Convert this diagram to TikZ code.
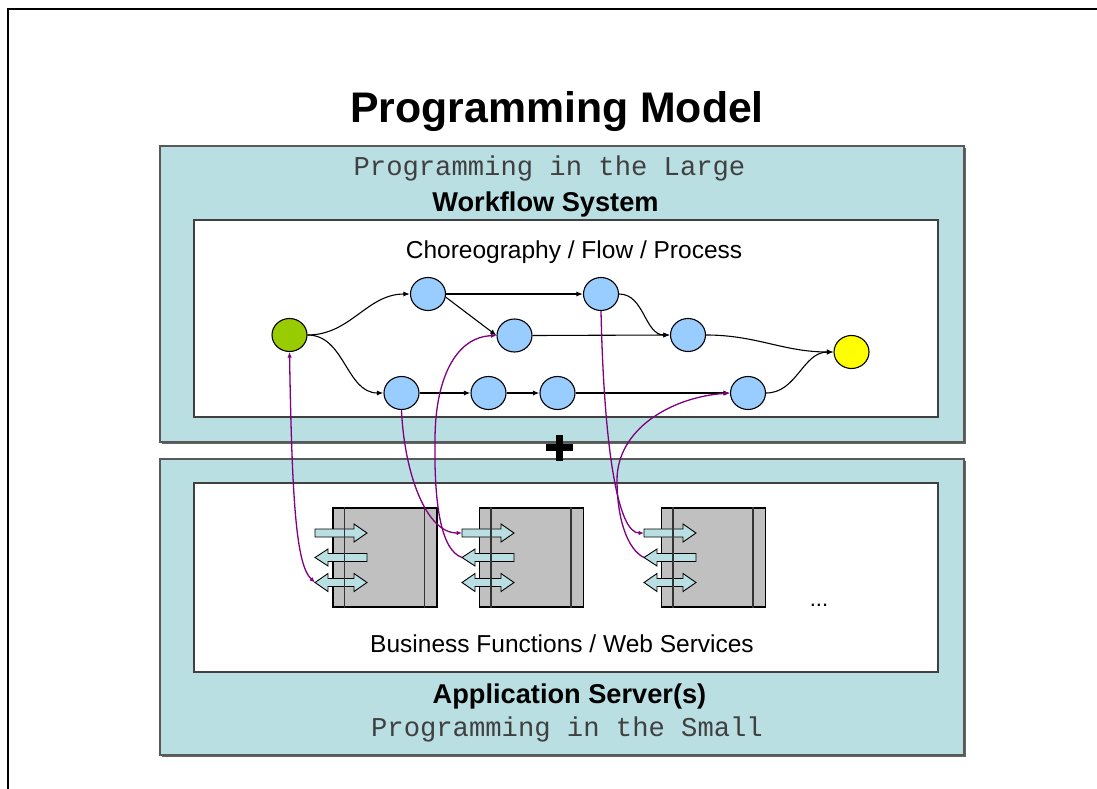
\documentclass[tikz,border=0pt]{standalone}
\usepackage{fontspec}
\setmainfont{Liberation Sans}
\setmonofont{Liberation Mono}
\usetikzlibrary{shapes.geometric,arrows.meta,shadows}

\definecolor{panelteal}{RGB}{185,223,227}
\definecolor{flowblue}{RGB}{153,204,255}
\definecolor{startgreen}{RGB}{153,204,0}
\definecolor{endyellow}{RGB}{255,255,0}
\definecolor{bfgray}{RGB}{192,192,192}
\definecolor{linkpurple}{RGB}{128,0,128}

% three port arrows of one service box: in (right), out (left), in/out (double)
\newcommand\portarrows[2]{%
  \begin{scope}[shift={(#2,0)}]
    \draw[port] (0,529) -- (39,529) -- (39,524) -- (52,533) -- (39,542) -- (39,537) -- (0,537) -- cycle;
    \draw[port] (52,553.5) -- (13,553.5) -- (13,549) -- (0,557.5) -- (13,566) -- (13,561.5) -- (52,561.5) -- cycle;
    \draw[port] (0,582.5) -- (13,573.5) -- (13,578.5) -- (39,578.5) -- (39,573.5) -- (52,582.5)
      -- (39,591.5) -- (39,586.5) -- (13,586.5) -- (13,591.5) -- cycle;
    \coordinate (#1-in) at (0,533);
    \coordinate (#1-out) at (0,557.5);
    \coordinate (#1-io) at (0,582.5);
  \end{scope}}

\begin{document}
\begin{tikzpicture}[x=1pt,y=-1pt,
  panel/.style={draw=black!65, line width=1.2pt, fill=panelteal, inner sep=0pt,
    minimum width=804pt, minimum height=296pt,
    drop shadow={shadow xshift=1.5pt, shadow yshift=-1.5pt, fill=black!60, opacity=1}},
  innerbox/.style={draw=black!75, line width=1.3pt, fill=white, inner sep=0pt, minimum width=744pt},
  step node/.style={ellipse, draw, line width=1.1pt, fill=flowblue, inner sep=0pt,
    minimum width=35pt, minimum height=33pt},
  flow/.style={draw, line width=1.1pt, -{Latex[length=6.5pt,width=5pt]}},
  link/.style={draw=linkpurple, line width=1.3pt, -{Latex[length=5.5pt,width=4.5pt]}},
  service/.style={draw, line width=1.1pt, fill=bfgray, inner sep=0pt,
    minimum width=104pt, minimum height=99pt},
  port/.style={draw, line width=0.9pt, fill=panelteal, line join=miter},
  strip/.style={line width=1.5pt, draw=black!80},
  label/.style={anchor=base, inner sep=0pt},
]
\useasboundingbox (0,0) rectangle (1097,789);
\clip (0,0) rectangle (1097,789);

% page frame
\draw[line width=2pt] (8,800) -- (8,9) -- (1110,9);

% title
\node[label, font=\fontsize{42.8}{50}\selectfont\bfseries] (title) at (557,123) {Programming Model};

% the two layers
\node[panel] (large) at (562,294) {};
\node[panel] (small) at (562,607) {};
\node[innerbox, minimum height=197pt] (flowbox) at (566,318.5) {};
\node[innerbox, minimum height=189pt] (svcbox) at (566,577.5) {};

% layer labels
\node[label, font=\ttfamily\fontsize{27.2}{30}\selectfont, text=black!75] (largelbl) at (549.5,175) {Programming in the Large};
\node[label, font=\fontsize{27.2}{30}\selectfont\bfseries] (wfs) at (545.5,211) {Workflow System};
\node[label, font=\fontsize{24.5}{28}\selectfont] (choreo) at (574,258) {Choreography / Flow / Process};
\node[label, font=\fontsize{24.5}{28}\selectfont] (bfws) at (562,652) {Business Functions / Web Services};
\node[label, font=\fontsize{27.2}{30}\selectfont\bfseries] (appsrv) at (569.5,703) {Application Server(s)};
\node[label, font=\ttfamily\fontsize{27.2}{30}\selectfont, text=black!75] (smalllbl) at (567,736) {Programming in the Small};

% plus between the layers
\fill (556,435) rectangle (563,461);
\fill (546,444) rectangle (573,451);

% process graph
\node[step node, fill=startgreen] (s) at (289.5,335) {};
\node[step node] (a) at (428,294) {};
\node[step node] (b) at (514.5,335.5) {};
\node[step node] (c) at (401.5,393) {};
\node[step node] (d) at (488.5,393) {};
\node[step node] (e) at (557.5,393) {};
\node[step node] (f) at (601,294) {};
\node[step node] (g) at (688,335) {};
\node[step node] (h) at (748,393) {};
\node[step node, fill=endyellow] (z) at (851.5,352) {};

\draw[flow] (s.east) to[out=0,in=180] (a.west);
\draw[flow] (s.east) to[out=0,in=180] (c.west);
\draw[flow] (a.east) -- (f.west);
\draw[flow] (a.-10) -- (b.west);
\draw[flow] (b.east) -- (g.west);
\draw[flow] (c.east) -- (d.west);
\draw[flow] (d.east) -- (e.west);
\draw[flow] (e.east) -- (h.west);
\draw[flow] (f.east) to[out=0,in=180] (g.west);
\draw[flow] (g.east) to[out=0,in=180] (z.west);
\draw[flow] (h.east) to[out=0,in=180] (z.west);

% service boxes
\node[service] (bf1) at (385,557.5) {};
\node[service] (bf2) at (531.5,557.5) {};
\node[service] (bf3) at (713.5,557.5) {};
\portarrows{bf1}{315}
\portarrows{bf2}{462}
\portarrows{bf3}{644}
\foreach \n in {bf1,bf2,bf3}{
  \draw[strip] ([xshift=12pt]\n.north west) -- ([xshift=12pt]\n.south west);
  \draw[strip] ([xshift=-13pt]\n.north east) -- ([xshift=-13pt]\n.south east);
}
\node[label, font=\fontsize{22}{26}\selectfont] (more) at (819,606) {...};

% bindings between process steps and services
\draw[link, {Latex[length=5.5pt,width=4.5pt]}-{Latex[length=5.5pt,width=4.5pt]}]
  (s.south) .. controls (292,500) and (296,565) .. (bf1-io);
\draw[link] (c.south) .. controls (404,470) and (425,533) .. (bf2-in);
\draw[link] (bf2-out) .. controls (440,550) and (434,500) .. (435,440)
  .. controls (435,380) and (455,337) .. (b.west);
\draw[link] (f.south) .. controls (604,450) and (618,533) .. (bf3-in);
\draw[link] (bf3-out) .. controls (628,550) and (617,520) .. (617,480)
  .. controls (617,430) and (670,397) .. (h.west);
\end{tikzpicture}
\end{document}
